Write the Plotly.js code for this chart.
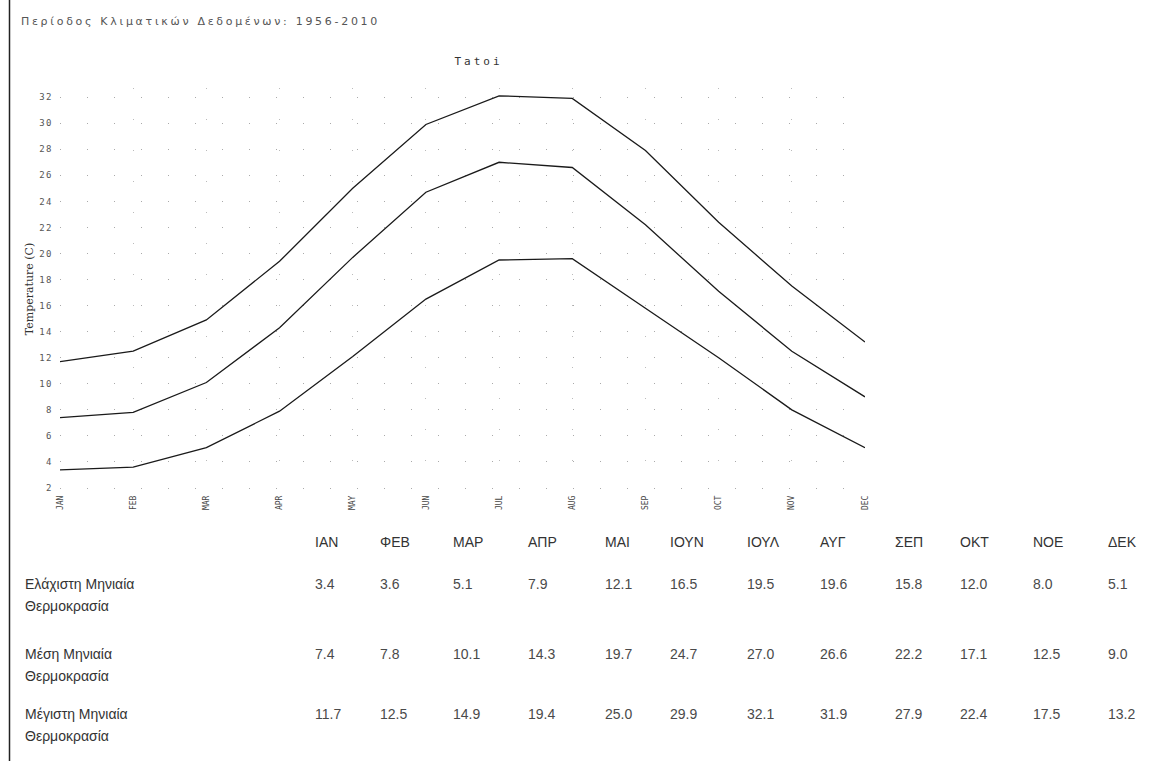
<!DOCTYPE html>
<html>
<head>
<meta charset="utf-8">
<script src="https://cdn.plot.ly/plotly-3.0.1.min.js"></script>
<style>html,body{margin:0;padding:0;background:#fff;}#chart{width:1159px;height:761px;}</style>
</head>
<body>
<div id="chart"></div>
<script>
// Data
const monthsEn = ["JAN","FEB","MAR","APR","MAY","JUN","JUL","AUG","SEP","OCT","NOV","DEC"];
const monthsGr = ["ΙΑΝ","ΦΕΒ","ΜΑΡ","ΑΠΡ","ΜΑΙ","ΙΟΥΝ","ΙΟΥΛ","ΑΥΓ","ΣΕΠ","ΟΚΤ","ΝΟΕ","ΔΕΚ"];
const minT  = [3.4, 3.6, 5.1, 7.9, 12.1, 16.5, 19.5, 19.6, 15.8, 12.0, 8.0, 5.1];
const meanT = [7.4, 7.8, 10.1, 14.3, 19.7, 24.7, 27.0, 26.6, 22.2, 17.1, 12.5, 9.0];
const maxT  = [11.7, 12.5, 14.9, 19.4, 25.0, 29.9, 32.1, 31.9, 27.9, 22.4, 17.5, 13.2];
const rowLabels = [["Ελάχιστη Μηνιαία", "Θερμοκρασία"], ["Μέση Μηνιαία", "Θερμοκρασία"], ["Μέγιστη Μηνιαία", "Θερμοκρασία"]];
const yTicks = [2,4,6,8,10,12,14,16,18,20,22,24,26,28,30,32];
const periodTitle = "Περίοδος Κλιματικών Δεδομένων: 1956-2010";
const stationTitle = "Tatoi";
const yTitle = "Temperature (C)";

// Layout geometry (pixels)
const W = 1159, H = 761;
const L = 60, R = 865, T = 88, B = 490;
const px = x => (x - L) / (R - L);
const py = y => (B - y) / (B - T);

const lineStyle = {color: "#1a1a1a", width: 1.3};
const traces = [minT, meanT, maxT].map(v => ({
  type: "scatter", mode: "lines", x: monthsEn, y: v,
  line: lineStyle, hoverinfo: "y", showlegend: false
}));

const annotations = [];
// centred anchors so that the added letter spacing spreads evenly
annotations.push({text: periodTitle, xref: "paper", yref: "paper", x: px(200), y: py(22),
  xanchor: "center", yanchor: "middle", showarrow: false,
  font: {family: "DejaVu Sans", size: 11, color: "#555"}});
annotations.push({text: stationTitle, xref: "paper", yref: "paper", x: px(479), y: py(62),
  xanchor: "center", yanchor: "middle", showarrow: false,
  font: {family: "DejaVu Sans Mono", size: 11, color: "#333"}});

const colX = [315, 380, 453, 528, 605, 670, 747, 820, 895, 960, 1033, 1108];
const tblFont = {family: "Liberation Sans, Arial", size: 14, color: "#4a4a4a"};
monthsGr.forEach((m, i) => {
  annotations.push({text: m, xref: "paper", yref: "paper", x: px(colX[i] - 2), y: py(542),
    xanchor: "left", yanchor: "middle", showarrow: false, font: {...tblFont, color: "#333"}});
});
const rows = [minT, meanT, maxT];
const rowY = [584, 654, 714];
rows.forEach((r, j) => {
  r.forEach((v, i) => {
    annotations.push({text: v.toFixed(1), xref: "paper", yref: "paper", x: px(colX[i] - 2), y: py(rowY[j]),
      xanchor: "left", yanchor: "middle", showarrow: false, font: tblFont});
  });
  rowLabels[j].forEach((t, k) => {
    annotations.push({text: t, xref: "paper", yref: "paper", x: px(23), y: py(rowY[j] + k * 22),
      xanchor: "left", yanchor: "middle", showarrow: false, font: {...tblFont, color: "#333"}});
  });
});

const layout = {
  width: W, height: H,
  margin: {l: L, r: W - R, t: T, b: H - B, pad: 0},
  paper_bgcolor: "#fff", plot_bgcolor: "#fff",
  showlegend: false,
  xaxis: {
    type: "category", range: [0, 11], tickangle: -90,
    tickfont: {family: "DejaVu Sans Mono", size: 8, color: "#444"},
    ticklabelstandoff: 3,
    showgrid: true, gridcolor: "#bbb", griddash: "1px,30px", gridwidth: 1,
    zeroline: false, showline: false, ticks: "", automargin: false
  },
  yaxis: {
    range: [1.85, 32.7], tickvals: yTicks,
    tickfont: {family: "DejaVu Sans Mono", size: 9, color: "#555"},
    ticklabelstandoff: 6,
    title: {text: yTitle, font: {family: "DejaVu Serif", size: 11, color: "#333"}, standoff: 6},
    showgrid: true, gridcolor: "#aaa", griddash: "1px,26px", gridwidth: 1,
    zeroline: false, showline: false, ticks: "", automargin: false
  },
  annotations: annotations,
  shapes: [{type: "line", xref: "paper", yref: "paper", x0: px(9.5), x1: px(9.5), y0: py(H), y1: py(0),
    line: {color: "#222", width: 1.5}}]
};

Plotly.newPlot("chart", traces, layout, {displayModeBar: false, staticPlot: true}).then(() => {
  // widen letter spacing of the two top titles to match the reference's wide type
  const texts = document.querySelectorAll(".annotation-text");
  if (texts[0]) texts[0].style.letterSpacing = "2.7px";
  if (texts[1]) texts[1].style.letterSpacing = "3px";
  document.querySelectorAll(".ytick text").forEach(t => t.style.letterSpacing = "1.5px");
});
</script>
</body>
</html>
